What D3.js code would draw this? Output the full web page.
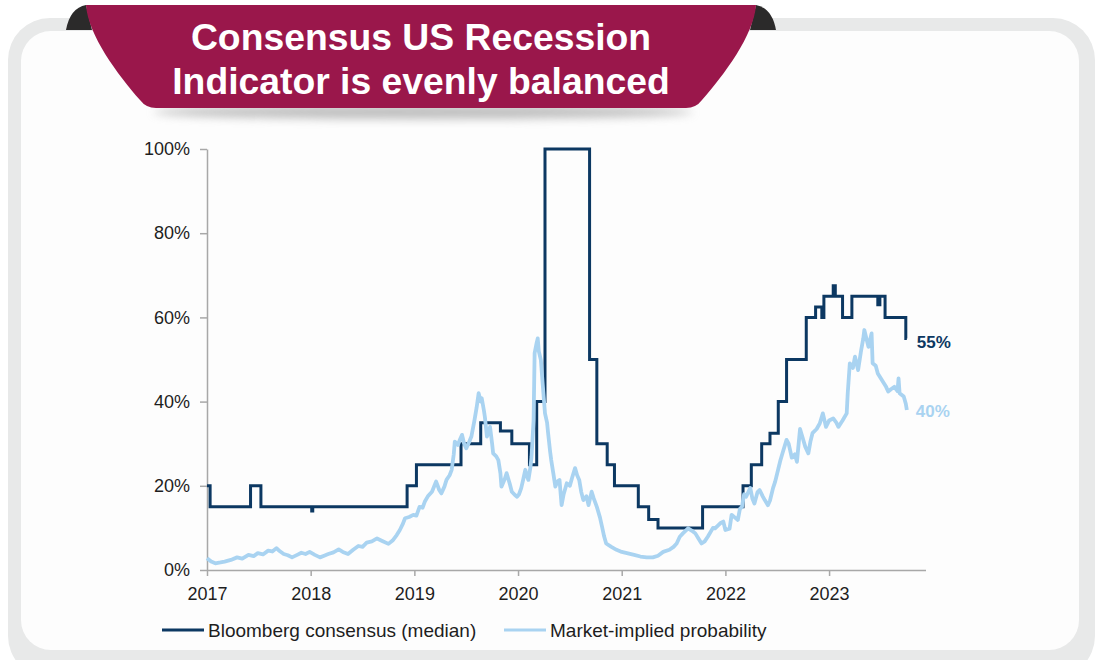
<!DOCTYPE html>
<html><head><meta charset="utf-8">
<script src="https://cdn.jsdelivr.net/npm/d3@7"></script>
<style>body{margin:0;background:#fff;} svg{display:block;font-family:"Liberation Sans",Arial,sans-serif;}</style>
</head><body><svg id="chart" width="1097" height="660"></svg>
<script>
// ---- data ----
const titleLines = ["Consensus US Recession", "Indicator is evenly balanced"];
const yearTicks = [2017, 2018, 2019, 2020, 2021, 2022, 2023];
const percentTicks = [0, 20, 40, 60, 80, 100];
const seriesNames = ["Bloomberg consensus (median)", "Market-implied probability"];
const endLabels = ["55%", "40%"];

const bloombergDates = [2017.00, 2017.03, 2017.42, 2017.52, 2018.01, 2018.02, 2018.93, 2019.02, 2019.45, 2019.64, 2019.83, 2019.94, 2020.11, 2020.18, 2020.26, 2020.69, 2020.76, 2020.86, 2020.93, 2021.16, 2021.26, 2021.35, 2021.78, 2022.17, 2022.25, 2022.35, 2022.43, 2022.51, 2022.59, 2022.78, 2022.87, 2022.93, 2022.95, 2023.04, 2023.06, 2023.13, 2023.22, 2023.47, 2023.49, 2023.54, 2023.74, 2023.75];
const bloombergValues = [20, 15, 20, 15, 14, 15, 20, 25, 30, 35, 33, 30, 25, 40, 100, 50, 30, 25, 20, 15, 12, 10, 15, 20, 25, 30, 32.5, 40, 50, 60, 62.5, 60, 65, 67.5, 65, 60, 65, 63, 65, 60, 55, 55];

const marketDates = [2017.00,2017.04,2017.08,2017.13,2017.17,2017.23,2017.29,2017.34,2017.40,2017.45,2017.49,2017.54,2017.59,2017.63,2017.67,2017.70,2017.74,2017.78,2017.82,2017.87,2017.91,2017.95,2017.99,2018.04,2018.09,2018.13,2018.17,2018.22,2018.27,2018.31,2018.36,2018.41,2018.46,2018.50,2018.54,2018.59,2018.64,2018.69,2018.75,2018.79,2018.83,2018.86,2018.89,2018.91,2018.95,2018.99,2019.02,2019.05,2019.08,2019.10,2019.13,2019.17,2019.21,2019.24,2019.26,2019.29,2019.31,2019.34,2019.36,2019.38,2019.39,2019.42,2019.44,2019.46,2019.48,2019.50,2019.53,2019.55,2019.58,2019.60,2019.62,2019.64,2019.65,2019.67,2019.68,2019.70,2019.72,2019.73,2019.75,2019.76,2019.79,2019.81,2019.83,2019.84,2019.87,2019.89,2019.92,2019.94,2019.97,2019.99,2020.01,2020.03,2020.05,2020.07,2020.09,2020.10,2020.12,2020.13,2020.15,2020.16,2020.18,2020.19,2020.20,2020.22,2020.24,2020.26,2020.28,2020.29,2020.31,2020.32,2020.34,2020.36,2020.38,2020.40,2020.42,2020.44,2020.47,2020.50,2020.52,2020.55,2020.57,2020.59,2020.61,2020.63,2020.66,2020.68,2020.71,2020.73,2020.76,2020.79,2020.81,2020.83,2020.85,2020.90,2020.95,2021.00,2021.05,2021.12,2021.18,2021.24,2021.30,2021.35,2021.40,2021.46,2021.50,2021.53,2021.56,2021.59,2021.64,2021.69,2021.71,2021.74,2021.77,2021.80,2021.83,2021.88,2021.90,2021.95,2021.98,2022.00,2022.04,2022.06,2022.09,2022.12,2022.14,2022.16,2022.18,2022.20,2022.24,2022.26,2022.28,2022.31,2022.33,2022.36,2022.38,2022.41,2022.43,2022.46,2022.48,2022.51,2022.53,2022.56,2022.59,2022.61,2022.64,2022.67,2022.69,2022.72,2022.75,2022.77,2022.80,2022.82,2022.84,2022.88,2022.91,2022.94,2022.97,2023.00,2023.04,2023.07,2023.09,2023.13,2023.17,2023.18,2023.20,2023.23,2023.25,2023.28,2023.31,2023.33,2023.34,2023.36,2023.38,2023.41,2023.42,2023.45,2023.47,2023.50,2023.53,2023.55,2023.57,2023.60,2023.63,2023.66,2023.67,2023.68,2023.72,2023.74,2023.75];
const marketValues = [2.8,2.0,1.6,1.8,2.0,2.4,3.0,2.7,3.6,3.3,4.0,3.7,4.6,4.4,5.2,4.5,3.8,3.5,3.0,3.6,4.1,3.8,4.3,3.6,3.0,3.4,3.8,4.2,4.9,4.3,3.8,4.8,5.7,5.5,6.5,6.8,7.5,6.9,6.2,7.0,8.3,9.5,11.0,12.3,12.6,13.1,12.9,15.0,14.8,16.2,17.5,18.6,21.0,19.0,18.2,19.8,21.4,22.5,23.8,27.5,30.5,29.7,31.0,32.1,30.0,28.9,30.5,31.7,35.6,38.5,42.0,40.0,40.8,38.0,36.4,31.7,33.0,34.0,30.0,27.7,27.0,26.1,23.0,19.8,21.5,23.0,20.5,18.6,17.8,17.4,18.0,19.4,21.5,23.8,22.0,21.4,24.5,26.9,35.6,51.5,54.0,55.0,52.0,49.9,43.5,37.2,35.0,32.5,28.0,26.1,23.0,19.8,21.0,21.4,15.4,18.0,20.6,20.0,21.8,24.2,22.5,21.4,18.5,16.6,17.5,15.4,18.6,17.0,15.0,12.5,10.3,8.0,6.3,5.5,4.8,4.3,4.0,3.6,3.2,3.0,3.0,3.4,4.3,4.8,5.5,6.3,7.9,8.7,9.9,9.1,8.7,7.5,6.3,6.8,7.9,10.0,9.9,11.1,11.5,9.5,9.8,13.1,12.5,11.9,14.5,15.0,18.0,17.4,19.5,17.0,15.8,18.5,19.0,17.5,16.6,15.4,16.5,19.5,21.0,24.0,26.0,28.5,30.9,30.0,26.7,27.5,25.7,33.5,31.0,29.3,27.7,30.5,32.5,33.5,34.8,37.2,34.0,35.5,36.0,35.0,34.0,35.5,37.2,42.0,49.1,48.0,50.7,47.5,52.3,55.0,57.0,55.0,53.0,56.2,49.1,48.5,46.7,45.5,44.3,43.5,42.4,43.0,43.5,42.5,45.5,42.0,41.2,39.5,38.0];

// ---- styles ----
const NAVY = "#0c3862", LIGHT = "#a9d3f1", CRIMSON = "#9a174b", TEXT = "#1e1e1e", AXIS = "#a8a8a8";

const svg = d3.select("#chart");
const defs = svg.append("defs");
defs.append("filter").attr("id", "blur").attr("x", "-20%").attr("y", "-200%").attr("width", "140%").attr("height", "500%")
  .append("feGaussianBlur").attr("stdDeviation", 5);

// card
svg.append("rect").attr("x", 8).attr("y", 18).attr("width", 1087).attr("height", 660).attr("rx", 42).attr("fill", "#e8e9e9");
svg.append("rect").attr("x", 21).attr("y", 31).attr("width", 1058).attr("height", 619).attr("rx", 30).attr("fill", "#fdfdfd");

// banner
svg.append("path").attr("d", "M86,5 Q70,8 66,30 L92,30 Z").attr("fill", "#2b2a2a");
svg.append("path").attr("d", "M756,5 Q772,8 776,30 L750,30 Z").attr("fill", "#2b2a2a");
svg.append("ellipse").attr("cx", 423).attr("cy", 112).attr("rx", 270).attr("ry", 7).attr("fill", "#8a8a8a").attr("opacity", 0.55).attr("filter", "url(#blur)");
svg.append("path")
  .attr("d", "M86,5 H756 C754,35 724,75 702,100 Q696,108 686,108 H156 Q146,108 140,100 C118,75 88,35 86,5 Z")
  .attr("fill", CRIMSON);
svg.append("g").selectAll("text").data(titleLines).join("text")
  .attr("x", 421).attr("y", (d, i) => 50 + i * 44)
  .attr("text-anchor", "middle").attr("fill", "#fff")
  .attr("font-size", 37.3).attr("font-weight", "bold").text(d => d);

// scales
const x = d3.scaleLinear().domain([2017, 2023.93]).range([207, 925.5]);
const y = d3.scaleLinear().domain([0, 100]).range([570, 149]);

// axes
const gy = svg.append("g").attr("transform", `translate(${x(2017)},0)`)
  .call(d3.axisLeft(y).tickValues(percentTicks).tickFormat(d => d + "%").tickSize(7).tickSizeOuter(0).tickPadding(10));
const gx = svg.append("g").attr("transform", `translate(0,${y(0)})`)
  .call(d3.axisBottom(x).tickValues(yearTicks).tickFormat(d3.format("d")).tickSize(6).tickSizeOuter(0).tickPadding(11));
[gx, gy].forEach(g => {
  g.attr("font-family", null).attr("font-size", null);
  g.select(".domain").attr("stroke", AXIS).attr("stroke-width", 1.5);
  g.selectAll(".tick line").attr("stroke", AXIS).attr("stroke-width", 1.5);
  g.selectAll(".tick text").attr("fill", TEXT).attr("font-size", 18);
});

// lines
const bloomberg = bloombergDates.map((d, i) => [d, bloombergValues[i]]);
const market = marketDates.map((d, i) => [d, marketValues[i]]);
svg.append("path").datum(bloomberg)
  .attr("d", d3.line().x(d => x(d[0])).y(d => y(d[1])).curve(d3.curveStepAfter))
  .attr("fill", "none").attr("stroke", NAVY).attr("stroke-width", 3).attr("stroke-linejoin", "miter");
svg.append("path").datum(market)
  .attr("d", d3.line().x(d => x(d[0])).y(d => y(d[1])).curve(d3.curveLinear))
  .attr("fill", "none").attr("stroke", LIGHT).attr("stroke-width", 3.8).attr("stroke-linejoin", "round");

// end labels
const lastB = bloomberg[bloomberg.length - 1], lastM = market[market.length - 1];
svg.append("text").attr("x", x(lastB[0]) + 10).attr("y", y(lastB[1]) + 4).attr("dy", "0.35em")
  .attr("fill", NAVY).attr("font-size", 17).attr("font-weight", "bold").text(endLabels[0]);
svg.append("text").attr("x", x(lastM[0]) + 9).attr("y", y(lastM[1]) + 1).attr("dy", "0.35em")
  .attr("fill", LIGHT).attr("font-size", 17).attr("font-weight", "bold").text(endLabels[1]);

// legend
const legend = [{x: 162, color: NAVY}, {x: 504, color: LIGHT}];
legend.forEach((l, i) => {
  svg.append("line").attr("x1", l.x).attr("x2", l.x + 42).attr("y1", 630).attr("y2", 630)
    .attr("stroke", l.color).attr("stroke-width", 3.2);
  svg.append("text").attr("x", l.x + 46).attr("y", 630).attr("dy", "0.35em")
    .attr("fill", TEXT).attr("font-size", 19).text(seriesNames[i]);
});
</script></body></html>
